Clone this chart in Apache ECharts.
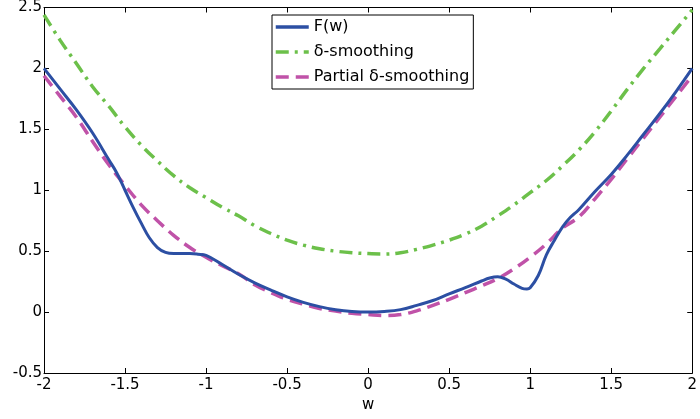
<!DOCTYPE html>
<html>
<head>
<meta charset="utf-8">
<script src="https://cdn.jsdelivr.net/npm/echarts@6/dist/echarts.min.js"></script>
<style>
html,body{margin:0;padding:0;background:#fff;}
#chart{width:700px;height:419px;}
</style>
</head>
<body>
<div id="chart"></div>
<script>
// Shared x grid for the two smoothing curves
var gridX = [-2.0,-1.9,-1.8,-1.7,-1.6,-1.5,-1.4,-1.3,-1.2,-1.1,-1.0,-0.9,-0.8,-0.7,-0.6,-0.5,-0.4,-0.3,-0.2,-0.1,0.0,0.1,0.2,0.3,0.4,0.5,0.6,0.7,0.8,0.9,1.0,1.1,1.2,1.3,1.4,1.5,1.6,1.7,1.8,1.9,2.0];
var deltaSmoothing = [2.44,2.23,2.04,1.85,1.69,1.52,1.37,1.24,1.12,1.02,0.94,0.86,0.79,0.71,0.645,0.59,0.55,0.52,0.5,0.487,0.48,0.477,0.487,0.515,0.55,0.59,0.64,0.705,0.79,0.88,0.98,1.08,1.2,1.33,1.48,1.65,1.83,2.0,2.16,2.32,2.48];
var partialSmoothing = [1.94,1.77,1.6,1.4,1.21,1.04,0.88,0.75,0.63,0.53,0.45,0.38,0.315,0.225,0.16,0.105,0.065,0.03,0.008,-0.01,-0.02,-0.028,-0.02,0.01,0.055,0.105,0.16,0.215,0.275,0.355,0.45,0.56,0.69,0.78,0.93,1.09,1.26,1.43,1.6,1.77,1.94];
// F(w) sampled more finely
var fX = [-2.0,-1.9,-1.8,-1.7,-1.6,-1.55,-1.5,-1.45,-1.4,-1.35,-1.3,-1.25,-1.2,-1.1,-1.05,-1.0,-0.9,-0.8,-0.7,-0.6,-0.5,-0.4,-0.3,-0.2,-0.1,0.0,0.1,0.2,0.3,0.4,0.5,0.6,0.7,0.75,0.8,0.85,0.9,0.95,0.98,1.0,1.05,1.1,1.15,1.2,1.25,1.3,1.4,1.5,1.6,1.7,1.8,1.9,2.0];
var fY = [2.0,1.83,1.66,1.47,1.25,1.14,1.0,0.86,0.73,0.61,0.53,0.49,0.48,0.48,0.475,0.465,0.39,0.31,0.24,0.18,0.125,0.08,0.045,0.02,0.005,0.0,0.005,0.02,0.055,0.095,0.15,0.2,0.255,0.28,0.29,0.27,0.23,0.195,0.19,0.2,0.3,0.47,0.59,0.7,0.78,0.84,0.99,1.13,1.29,1.46,1.63,1.81,2.0];
var seriesNames = ['F(w)', '\u03b4-smoothing', 'Partial \u03b4-smoothing'];
var xTickMin = -2, xTickMax = 2, xTickStep = 0.5;
var yTickMin = -0.5, yTickMax = 2.5, yTickStep = 0.5;

function pairs(xs, ys){ return xs.map(function(x,i){ return [x, ys[i]]; }); }

var FONT = 'DejaVu Sans';
var axisCommon = {
  axisLine:{show:true, onZero:false, lineStyle:{color:'#000', width:1}},
  axisTick:{show:true, inside:true, length:5, lineStyle:{color:'#000', width:1}},
  splitLine:{show:false}
};
function mk(base, extra){ var o = JSON.parse(JSON.stringify(base)); for (var k in extra) o[k] = extra[k]; return o; }

var chart = echarts.init(document.getElementById('chart'), null, {renderer:'canvas'});
chart.setOption({
  animation:false,
  backgroundColor:'#fff',
  grid:{left:44, right:2, top:6, bottom:46, containLabel:false},
  legend:{
    orient:'vertical', left:272, top:15,
    backgroundColor:'#fff', borderColor:'#000', borderWidth:1,
    padding:[4,4,4,2], itemGap:9, itemWidth:33, itemHeight:14,
    itemStyle:{opacity:0, borderWidth:0},
    lineStyle:{width:3.5},
    textStyle:{fontFamily:FONT, fontSize:16, color:'#000', lineHeight:16},
    data:seriesNames
  },
  xAxis:[
    mk(axisCommon,{type:'value', position:'bottom', min:xTickMin, max:xTickMax, interval:xTickStep,
      axisLabel:{show:true, color:'#000', fontFamily:FONT, fontSize:15, margin:5},
      name:'w', nameLocation:'middle', nameGap:25,
      nameTextStyle:{fontFamily:FONT, fontSize:15, color:'#000'}}),
    mk(axisCommon,{type:'value', position:'top', min:xTickMin, max:xTickMax, interval:xTickStep,
      axisLabel:{show:false}})
  ],
  yAxis:[
    mk(axisCommon,{type:'value', position:'left', min:yTickMin, max:yTickMax, interval:yTickStep,
      axisLabel:{show:true, color:'#000', fontFamily:FONT, fontSize:15, margin:2}}),
    mk(axisCommon,{type:'value', position:'right', min:yTickMin, max:yTickMax, interval:yTickStep,
      axisLabel:{show:false}})
  ],
  series:[
    {name:seriesNames[0], type:'line', data:pairs(fX,fY), smooth:0.4, symbol:'none',
      lineStyle:{color:'#2c4fa3', width:3}, itemStyle:{color:'#2c4fa3'}, z:3},
    {name:seriesNames[1], type:'line', data:pairs(gridX,deltaSmoothing), smooth:0.4, symbol:'none',
      lineStyle:{color:'#6cc04a', width:3.5, type:[13,6,3,6]}, itemStyle:{color:'#6cc04a'}, z:2},
    {name:seriesNames[2], type:'line', data:pairs(gridX,partialSmoothing), smooth:0.4, symbol:'none',
      lineStyle:{color:'#c052a8', width:3.5, type:[13,7]}, itemStyle:{color:'#c052a8'}, z:2}
  ]
});
</script>
</body>
</html>
